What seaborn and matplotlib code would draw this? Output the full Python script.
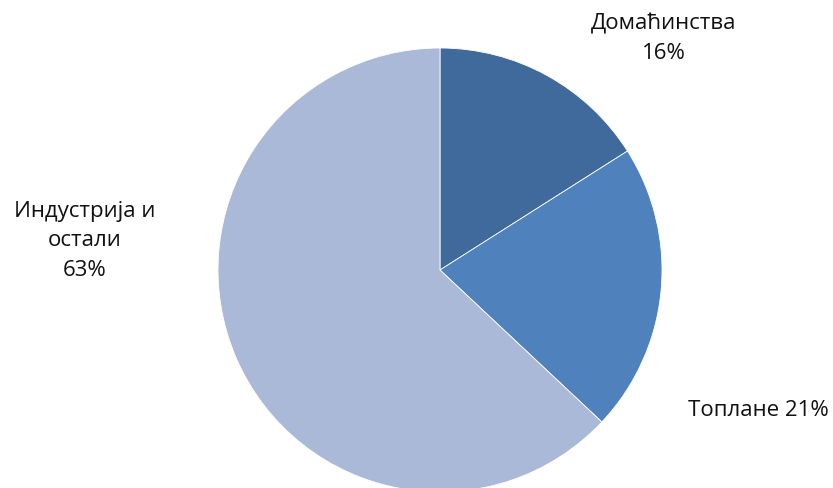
import matplotlib
matplotlib.use("Agg")
import matplotlib.pyplot as plt
import seaborn as sns

# Sectors and their shares (%)
categories = ["Домаћинства", "Топлане", "Индустрија и остали"]
shares = [16, 21, 63]
label_texts = ["Домаћинства\n16%", "Топлане 21%", "Индустрија и\nостали\n63%"]

sns.set_theme(style="white")
plt.rcParams["font.family"] = ["Open Sans", "DejaVu Sans"]

colors = ["#3F6A9B", "#4F81BD", "#AAB9D7"]

fig = plt.figure(figsize=(8.33, 4.88), dpi=100)
ax = fig.add_axes([0, 0, 1, 1])

ax.pie(
    shares,
    colors=colors,
    startangle=90,
    counterclock=False,
    center=(440, 218),
    radius=222,
    wedgeprops=dict(edgecolor="white", linewidth=0.6),
    frame=True,
)
ax.set_xlim(0, 833)
ax.set_ylim(0, 488)
ax.set_aspect("auto")
ax.axis("off")

label_pos = [(664, 449), (758, 78), (85, 247)]
for txt, (x, y) in zip(label_texts, label_pos):
    ax.text(x, y, txt, ha="center", va="center", fontsize=16,
            color="#111111", linespacing=1.55)

fig.savefig("out.png", dpi=100)
